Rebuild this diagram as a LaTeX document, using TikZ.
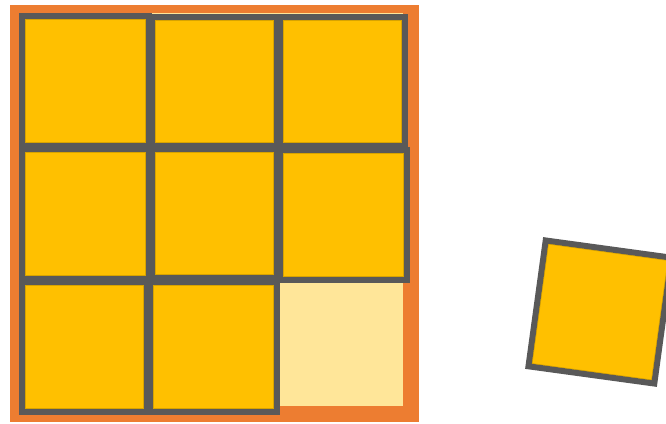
\documentclass[tikz,border=0pt]{standalone}
\definecolor{frameorange}{HTML}{ED7D31}
\definecolor{edgegray}{HTML}{595959}
\definecolor{tilegold}{HTML}{FFC000}
\definecolor{tilelight}{HTML}{FFE699}
\definecolor{tileedge}{HTML}{BF9000}
\tikzset{
  tile/.style={fill=tilegold, draw=edgegray, line width=6pt, line join=miter},
  tileinner/.style={draw=tileedge, line width=0.6pt, opacity=0.6},
}
\newcommand{\gtile}[4]{%
  \draw[tile] (#1,#2) rectangle (#3,#4);
  \draw[tileinner] (#1+3.3,#2+3.3) rectangle (#3-3.3,#4-3.3);
}
\begin{document}
\begin{tikzpicture}[x=1pt,y=-1pt]
\useasboundingbox (0,0) rectangle (666,423);
\clip (0,0) rectangle (666,423);
% orange frame and empty cell
\fill[frameorange] (10,5) rectangle (419,422);
\fill[tilelight] (19,13) rectangle (403,406);
% row 1
\gtile{22}{16}{149}{146}
\gtile{152}{17}{277}{146}
\gtile{280}{17}{405}{146}
% row 2
\gtile{22}{149}{149}{279}
\gtile{152}{149}{277}{278}
\gtile{280}{150}{407}{280}
% row 3
\gtile{22}{282}{147}{412}
\gtile{150}{282}{277}{412}
% loose tile
\begin{scope}[rotate around={-7.8:(600,312)}]
  \draw[tile] (536.5,248.5) rectangle (663.5,375.5);
  \draw[tileinner] (539.8,251.8) rectangle (660.2,372.2);
\end{scope}
\end{tikzpicture}
\end{document}
